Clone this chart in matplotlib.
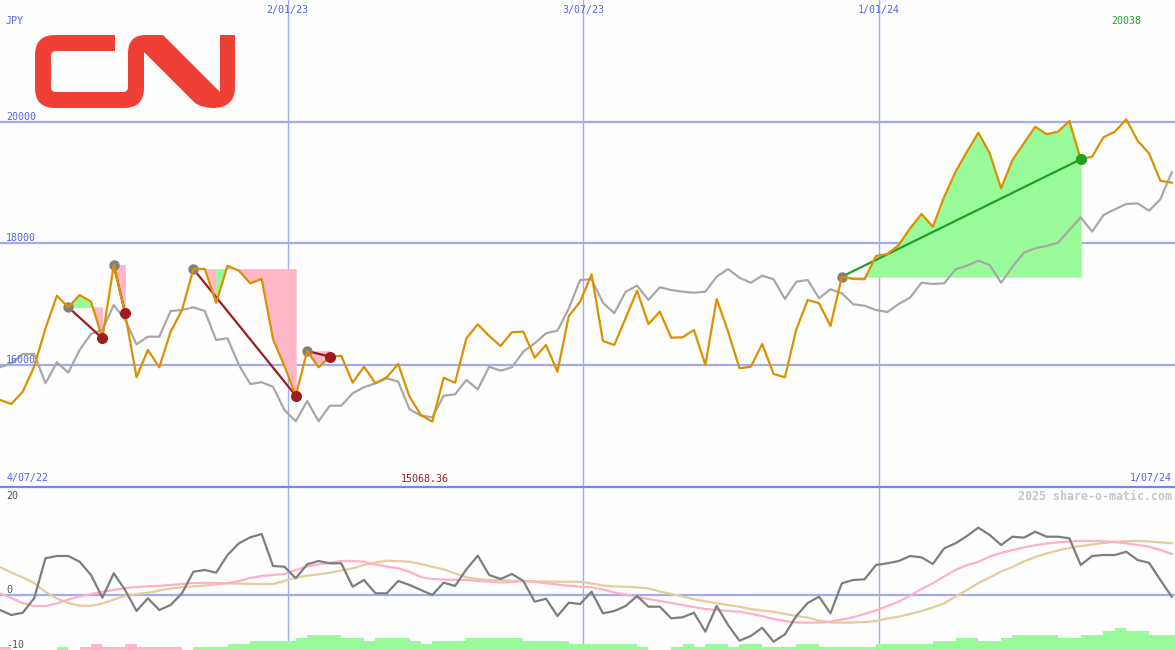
import numpy as np
import pandas as pd
import matplotlib
matplotlib.use("Agg")
import matplotlib.pyplot as plt
import matplotlib.dates as mdates
import matplotlib.transforms as mtransforms
from matplotlib.path import Path
from matplotlib.patches import PathPatch

# ---------------- data ----------------
dates = pd.date_range("2022-07-09", periods=104, freq="7D")
x_end = pd.Timestamp("2024-07-01")

price = [15425, 15359, 15561, 15972, 16603, 17139, 16949, 17151, 17041, 16439,
         17644, 16850, 15798, 16247, 15962, 16548, 16904, 17578, 17578, 17024,
         17633, 17550, 17343, 17414, 16423, 15984, 15495, 16230, 15962, 16137,
         16150, 15709, 15972, 15699, 15798, 16017, 15479, 15178, 15068.36, 15791,
         15709, 16439, 16669, 16477, 16313, 16538, 16548, 16120, 16329, 15890,
         16806, 17041, 17491, 16395, 16329, 16773, 17222, 16674, 16876, 16449,
         16455, 16576, 16000, 17085, 16550, 15946, 15972, 16345, 15852, 15798,
         16587, 17069, 17014, 16641, 17452, 17414, 17410, 17792, 17825, 17973,
         18247, 18483, 18274, 18767, 19178, 19507, 19819, 19480, 18905, 19370,
         19645, 19918, 19793, 19836, 20011, 19382, 19425, 19744, 19836, 20038,
         19688, 19480, 19030, 18997]

index_line = [15962, 16028, 16181, 16181, 15699, 16045, 15874, 16247, 16510, 16576,
              16987, 16740, 16340, 16465, 16465, 16888, 16904, 16949, 16888, 16411,
              16439, 16000, 15688, 15716, 15643, 15260, 15075, 15408, 15075, 15331,
              15331, 15535, 15634, 15699, 15781, 15726, 15272, 15167, 15140, 15495,
              15518, 15754, 15600, 15972, 15906, 15962, 16219, 16357, 16521, 16564,
              16932, 17398, 17409, 17024, 16850, 17205, 17304, 17069, 17278, 17233,
              17205, 17189, 17205, 17452, 17578, 17435, 17353, 17468, 17409, 17085,
              17370, 17398, 17097, 17245, 17179, 16998, 16975, 16904, 16871, 17003,
              17107, 17353, 17332, 17343, 17573, 17633, 17715, 17644, 17353, 17616,
              17846, 17919, 17957, 18011, 18219, 18428, 18192, 18466, 18560, 18647,
              18658, 18537, 18724, 19168]

momentum = [-2.73, -3.64, -3.22, -0.6, 6.67, 7.09, 7.09, 6.05, 3.64, -0.49,
            3.95, 0.91, -2.91, -0.6, -2.73, -1.82, 0.31, 4.24, 4.55, 4.05,
            7.27, 9.4, 10.49, 11.09, 5.27, 5.15, 3.04, 5.58, 6.18, 5.76,
            5.76, 1.51, 2.73, 0.31, 0.31, 2.55, 1.82, 0.91, 0.0, 2.24,
            1.64, 4.67, 7.15, 3.64, 2.91, 3.82, 2.55, -1.22, -0.67, -3.82,
            -1.4, -1.64, 0.6, -3.33, -2.91, -2.0, -0.18, -2.13, -2.13, -4.24,
            -4.05, -3.22, -6.67, -2.0, -5.45, -8.31, -7.45, -5.95, -8.49, -7.15,
            -3.82, -1.45, -0.31, -3.33, 2.13, 2.73, 2.85, 5.45, 5.76, 6.18,
            7.09, 6.85, 5.64, 8.49, 9.4, 10.73, 12.24, 10.91, 9.09, 10.6,
            10.42, 11.51, 10.6, 10.6, 10.31, 5.45, 7.09, 7.27, 7.27, 7.87,
            6.36, 5.87, 2.73, -0.31]

avg_fast = [0.31, -0.55, -1.45, -2.0, -2.0, -1.55, -0.82, -0.27, 0.18, 0.55,
            0.91, 1.27, 1.45, 1.58, 1.67, 1.82, 2.0, 2.18, 2.22, 2.18,
            2.13, 2.55, 3.09, 3.45, 3.64, 3.82, 4.55, 5.18, 5.55, 5.87,
            6.18, 6.18, 6.05, 5.55, 5.18, 4.85, 4.24, 3.27, 2.91, 2.82,
            2.76, 2.73, 2.55, 2.42, 2.27, 2.36, 2.55, 2.36, 2.13, 1.91,
            1.67, 1.51, 1.4, 1.0, 0.45, 0.09, -0.36, -0.73, -1.09, -1.45,
            -1.82, -2.18, -2.55, -2.73, -2.91, -3.04, -3.42, -3.82, -4.36, -4.73,
            -5.0, -5.04, -5.0, -4.85, -4.45, -4.05, -3.45, -2.82, -2.0, -1.22,
            -0.09, 1.09, 2.13, 3.36, 4.55, 5.45, 6.0, 7.0, 7.64, 8.18,
            8.64, 9.04, 9.36, 9.58, 9.73, 9.85, 9.85, 9.76, 9.64, 9.4,
            9.09, 8.78, 8.18, 7.45]

avg_slow = [5.04, 4.09, 3.18, 2.18, 0.55, -0.64, -1.45, -1.95, -1.95, -1.55,
            -0.82, -0.18, 0.18, 0.4, 0.82, 1.18, 1.4, 1.58, 1.73, 1.95,
            2.09, 2.09, 2.0, 2.0, 2.0, 2.55, 3.18, 3.51, 3.76, 4.05,
            4.45, 4.85, 5.45, 5.91, 6.24, 6.15, 6.05, 5.64, 5.13, 4.67,
            3.91, 3.22, 2.91, 2.73, 2.67, 2.6, 2.55, 2.49, 2.45, 2.42,
            2.42, 2.42, 2.09, 1.73, 1.55, 1.49, 1.4, 1.18, 0.64, 0.18,
            -0.27, -0.78, -1.15, -1.51, -1.82, -2.13, -2.55, -2.82, -3.04, -3.45,
            -3.82, -4.09, -4.67, -4.96, -5.04, -5.0, -4.91, -4.73, -4.27, -3.95,
            -3.45, -2.91, -2.27, -1.51, -0.27, 0.91, 2.18, 3.18, 4.27, 5.09,
            6.09, 6.91, 7.55, 8.09, 8.55, 8.91, 9.18, 9.45, 9.69, 9.78,
            9.82, 9.73, 9.58, 9.4]

hist = [-0.6, 0, 0, 0, 0, 0.6, 0, -0.6, -1.1, -0.6,
        -0.6, -1.1, -0.6, -0.6, -0.6, -0.6, 0, 0.6, 0.6, 0.6,
        1.1, 1.1, 1.6, 1.6, 1.6, 1.6, 2.1, 2.7, 2.7, 2.7,
        2.1, 2.1, 1.6, 2.1, 2.1, 2.1, 1.6, 1.1, 1.6, 1.6,
        1.6, 2.1, 2.1, 2.1, 2.1, 2.1, 1.6, 1.6, 1.6, 1.6,
        1.1, 1.1, 1.1, 1.1, 1.1, 1.1, 0.6, 0, 0, 0.6,
        1.1, 0.6, 1.1, 1.1, 0.6, 1.1, 1.1, 0.6, 0.6, 0.6,
        1.1, 1.1, 0.6, 0.6, 0.6, 0.6, 0.6, 1.1, 1.1, 1.1,
        1.1, 1.1, 1.6, 1.6, 2.1, 2.1, 1.6, 1.6, 2.1, 2.7,
        2.7, 2.7, 2.7, 2.1, 2.1, 2.7, 2.7, 3.5, 4.0, 3.5,
        3.5, 2.7, 2.7, 2.7]

trade_entry = [6, 10, 17, 27, 74]
trade_exit = [9, 11, 26, 29, 95]

grid_prices = [16000, 18000, 20000]
vline_dates = ["2023-01-02", "2023-07-03", "2024-01-01"]
vline_labels = ["2/01/23", "3/07/23", "1/01/24"]
start_label = "4/07/22"
end_label = "1/07/24"
currency = "JPY"
osc_labels = ["20", "0", "-10"]
watermark = "2025 share-o-matic.com"

# ---------------- style ----------------
bg = "#fdfefd"
grid_c = "#a3abf2"
sep_c = "#7585ee"
blue_t = "#5064e6"
orange = "#dd9000"
grey_l = "#a8a8a8"
green_f = "#98fa98"
pink_f = "#ffb6c6"
loss_c = "#a01c1c"
win_c = "#22a022"
mono = "DejaVu Sans Mono"
fs = 7.2

W, H = 1175, 650
top_h = 487
fig = plt.figure(figsize=(W / 100, H / 100), dpi=100)
fig.patch.set_facecolor(bg)
ax = fig.add_axes([0, (H - top_h) / H, 1, top_h / H])
axb = fig.add_axes([0, 0, 1, (H - top_h) / H])
for a in (ax, axb):
    a.set_facecolor(bg)
    for s in a.spines.values():
        s.set_visible(False)
    a.set_xlim(dates[0], x_end)
    a.set_xticks([])
    a.set_yticks([])

dnum = mdates.date2num(dates)

# ---------------- price panel ----------------
ax.set_ylim(13994, 22001)
for p in grid_prices:
    ax.axhline(p, color=grid_c, lw=1.6, zorder=0.5)
for d in vline_dates:
    ax.axvline(pd.Timestamp(d), color=grid_c, lw=1.0, zorder=0.5)
    axb.axvline(pd.Timestamp(d), color=grid_c, lw=1.0, zorder=0.5)

for e, xo in zip(trade_entry, trade_exit):
    lvl = price[e]
    for i in range(e, xo):
        col = green_f if price[i + 1] >= lvl else pink_f
        ax.fill_between(dates[i:i + 2], price[i:i + 2], lvl, facecolor=col,
                        edgecolor=col, lw=0.4, zorder=1)

ax.plot(dates, index_line, color=grey_l, lw=1.6, zorder=2)

for e, xo in zip(trade_entry, trade_exit):
    c = win_c if price[xo] >= price[e] else loss_c
    ax.plot([dates[e], dates[xo]], [price[e], price[xo]], color=c, lw=1.6, zorder=3)
    ax.plot([dates[e]], [price[e]], "o", ms=7.5, color="#808080", mec="none", zorder=3)

ax.plot(dates, price, color=orange, lw=1.6, zorder=4)

for e, xo in zip(trade_entry, trade_exit):
    c = win_c if price[xo] >= price[e] else loss_c
    ax.plot([dates[xo]], [price[xo]], "o", ms=8, color=c, mec="none", zorder=5)

ty = mtransforms.blended_transform_factory(ax.transAxes, ax.transData)
tx = mtransforms.blended_transform_factory(ax.transData, ax.transAxes)
for p in grid_prices:
    ax.text(6 / W, p, f"{p}", transform=ty, ha="left", va="bottom",
            color=blue_t, family=mono, fontsize=fs, zorder=6)
for d, lab in zip(vline_dates, vline_labels):
    ax.text(mdates.date2num(pd.Timestamp(d)), 1 - 10 / top_h, lab, transform=tx,
            ha="center", va="center", color=blue_t, family=mono, fontsize=fs)
ax.text(6 / W, 1 - 21.5 / top_h, currency, transform=ax.transAxes, ha="left",
        va="center", color=blue_t, family=mono, fontsize=fs)

imax = int(np.argmax(price))
imin = int(np.argmin(price))
ax.text(dnum[imax], 1 - 21.5 / top_h, f"{price[imax]:.0f}", transform=tx,
        ha="center", va="center", color=win_c, family=mono, fontsize=fs)
yb = 8.5 / top_h
ax.annotate(f"{price[imin]:.2f}", xy=(dnum[imin], yb), xycoords=tx,
            xytext=(-8, 0), textcoords="offset pixels", ha="center", va="center",
            color=loss_c, family=mono, fontsize=fs)
ax.text(7 / W, yb, start_label, transform=ax.transAxes, ha="left", va="center",
        color=blue_t, family=mono, fontsize=fs)
ax.text(1172 / W, yb, end_label, transform=ax.transAxes, ha="right", va="center",
        color=blue_t, family=mono, fontsize=fs)

# ---------------- oscillator panel ----------------
bot_h = H - top_h
axb.set_ylim(-10, bot_h / 5.5 - 10)
axb.axhline(0, color=grid_c, lw=1.6, zorder=0.5)
axb.spines["top"].set_visible(True)
axb.spines["top"].set_color(sep_c)
axb.spines["top"].set_linewidth(1.6)

hv = np.array(hist)
axb.bar(dates, np.abs(hv), width=7, bottom=-10, align="edge",
        color=[green_f if h > 0 else pink_f for h in hv], lw=0, zorder=1)
axb.plot(dates, avg_slow, color="#e6cc9a", lw=1.6, zorder=2)
axb.plot(dates, avg_fast, color="#ffb0c8", lw=1.6, zorder=2)
axb.plot(dates, momentum, color="#7e7e7e", lw=1.6, zorder=3)

tyb = mtransforms.blended_transform_factory(axb.transAxes, axb.transData)
axb.text(6 / W, 1 - 4 / bot_h, osc_labels[0], transform=axb.transAxes, ha="left",
         va="top", color="#555555", family=mono, fontsize=fs)
axb.text(6 / W, 0, osc_labels[1], transform=tyb, ha="left", va="bottom",
         color="#555555", family=mono, fontsize=fs)
axb.text(6 / W, -10, osc_labels[2], transform=tyb, ha="left", va="bottom",
         color="#555555", family=mono, fontsize=fs)
axb.text(1172 / W, 1 - 9 / bot_h, watermark, transform=axb.transAxes, ha="right",
         va="center", color="#c6c6c6", family=mono, fontsize=8.4, weight="bold")

# ---------------- logo (filled outline, pixel coordinates) ----------------
lg = fig.add_axes([0, 0, 1, 1])
lg.set_xlim(0, W)
lg.set_ylim(H, 0)
lg.axis("off")
M, L, Q, CU, CL = Path.MOVETO, Path.LINETO, Path.CURVE3, Path.CURVE4, Path.CLOSEPOLY
logo = [
    ((115, 35), M), ((55, 35), L), ((35, 35), Q), ((35, 55), Q),
    ((35, 88), L), ((35, 108), Q), ((55, 108), Q),
    ((124, 108), L), ((144, 108), Q), ((144, 88), Q),
    ((144, 52), L), ((194, 102), L),
    ((202, 110), CU), ((235, 114), CU), ((235, 88), CU),
    ((235, 35), L), ((220, 35), L), ((220, 92), L),
    ((163, 35), L), ((146, 35), L), ((128, 35), Q), ((128, 53), Q),
    ((128, 87), L), ((128, 92), Q), ((123, 92), Q),
    ((56, 92), L), ((51, 92), Q), ((51, 87), Q),
    ((51, 56), L), ((51, 51), Q), ((56, 51), Q),
    ((115, 51), L), ((115, 35), CL),
]
lg.add_patch(PathPatch(Path([v for v, _ in logo], [c for _, c in logo]),
                       facecolor="#ee4036", edgecolor="none"))

fig.savefig("out.png", dpi=100, facecolor=bg)
